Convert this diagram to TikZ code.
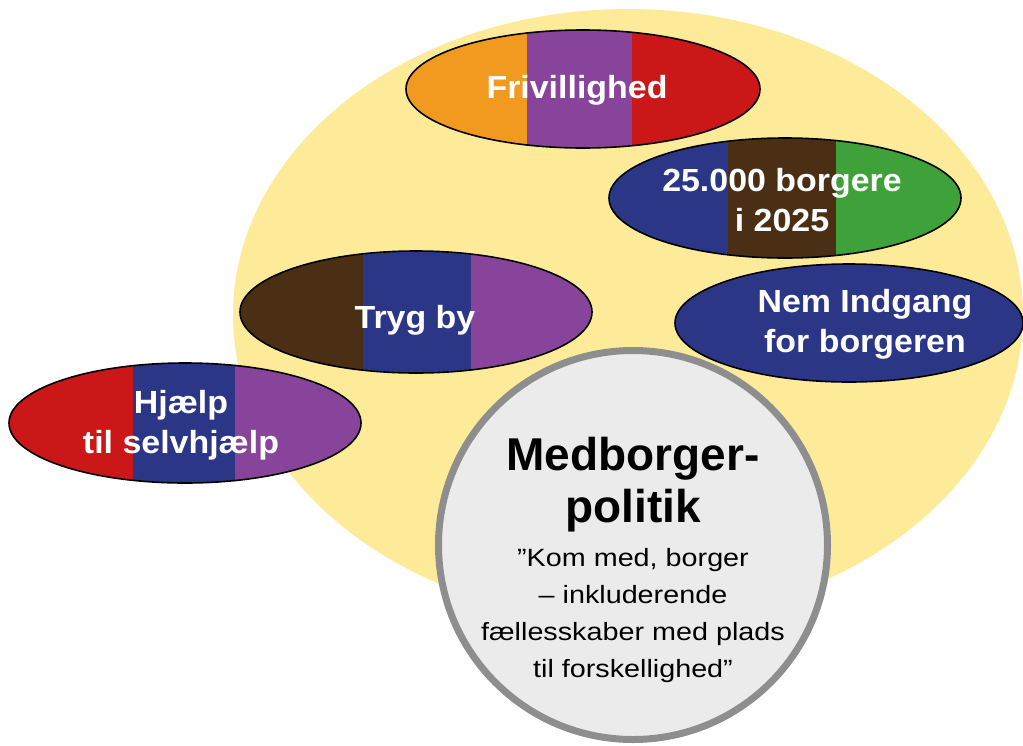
\documentclass[tikz,border=0pt]{standalone}
\usepackage{fontspec}
\setmainfont{Liberation Sans}
\newfontfamily\lblfont[FakeStretch=1.06]{Liberation Sans}
\newfontfamily\qtfont[FakeStretch=1.15]{Liberation Sans}
\usetikzlibrary{shapes.geometric}
\definecolor{bgyellow}{HTML}{FDEB9A}
\definecolor{corange}{HTML}{F29A1F}
\definecolor{cpurple}{HTML}{88449A}
\definecolor{cred}{HTML}{CC1719}
\definecolor{cblue}{HTML}{2B3687}
\definecolor{cbrown}{HTML}{4A2F15}
\definecolor{cgreen}{HTML}{3FA13A}
\definecolor{circfill}{HTML}{EBEBEB}
\definecolor{circline}{HTML}{8E8E8E}
\tikzset{
  oval/.style={draw=black, line width=1.6pt, ellipse, inner sep=0pt},
  lbl/.style={text=white, font=\lblfont\bfseries\fontsize{32}{40}\selectfont, align=center, inner sep=0pt},
  titletxt/.style={text=black, font=\bfseries\fontsize{46}{52}\selectfont, align=center, inner sep=0pt},
  quotetxt/.style={text=black, font=\qtfont\fontsize{25}{37}\selectfont, align=center, inner sep=0pt},
  bigcircle/.style={circle, draw=circline, fill=circfill, line width=7pt, inner sep=0pt, minimum size=389pt}
}
\begin{document}
\begin{tikzpicture}[x=1pt,y=-1pt]
\useasboundingbox (0,0) rectangle (1023,745);
% background yellow ellipse
\fill[bgyellow] (628,315) ellipse [x radius=395pt, y radius=306pt];

% Frivillighed
\begin{scope}
  \clip (583,89) ellipse [x radius=177pt, y radius=59pt];
  \fill[corange] (400,20) rectangle (527,160);
  \fill[cpurple] (527,20) rectangle (632,160);
  \fill[cred] (632,20) rectangle (770,160);
\end{scope}
\node[oval, minimum width=354pt, minimum height=118pt] (friv) at (583,89) {};
\node[lbl, anchor=base] (frivtxt) at (577,98) {Frivillighed};

% 25.000 borgere
\begin{scope}
  \clip (785,198) ellipse [x radius=176pt, y radius=60pt];
  \fill[cblue] (600,130) rectangle (728,270);
  \fill[cbrown] (728,130) rectangle (836,270);
  \fill[cgreen] (836,130) rectangle (970,270);
\end{scope}
\node[oval, minimum width=352pt, minimum height=120pt] (borg) at (785,198) {};
\node[lbl] (borgtxt) at (782,200.5) {25.000 borgere\\i 2025};

% Tryg by
\begin{scope}
  \clip (416,312) ellipse [x radius=176pt, y radius=61pt];
  \fill[cbrown] (230,245) rectangle (363,380);
  \fill[cblue] (363,245) rectangle (471,380);
  \fill[cpurple] (471,245) rectangle (600,380);
\end{scope}
\node[oval, minimum width=352pt, minimum height=122pt] (tryg) at (416,312) {};
\node[lbl, anchor=base] (trygtxt) at (415,328) {Tryg by};

% Nem Indgang
\node[oval, fill=cblue, minimum width=348pt, minimum height=118pt] (nem) at (849,323) {};
\node[lbl] (nemtxt) at (865,324.5) {Nem Indgang\\for borgeren};

% Hjaelp til selvhjaelp
\begin{scope}
  \clip (185,423) ellipse [x radius=176pt, y radius=60pt];
  \fill[cred] (0,355) rectangle (133,490);
  \fill[cblue] (133,355) rectangle (235,490);
  \fill[cpurple] (235,355) rectangle (370,490);
\end{scope}
\node[oval, minimum width=352pt, minimum height=120pt] (hjlp) at (185,423) {};
\node[lbl] (hjlptxt) at (181,425) {Hjælp\\til selvhjælp};

% central circle
\node[bigcircle] (medb) at (633,545) {};
\node[titletxt] (title) at (633,484.5) {Medborger-\\politik};
\node[quotetxt] (quote) at (633,616) {”Kom med, borger\\– inkluderende\\fællesskaber med plads\\til forskellighed”};
\end{tikzpicture}
\end{document}
